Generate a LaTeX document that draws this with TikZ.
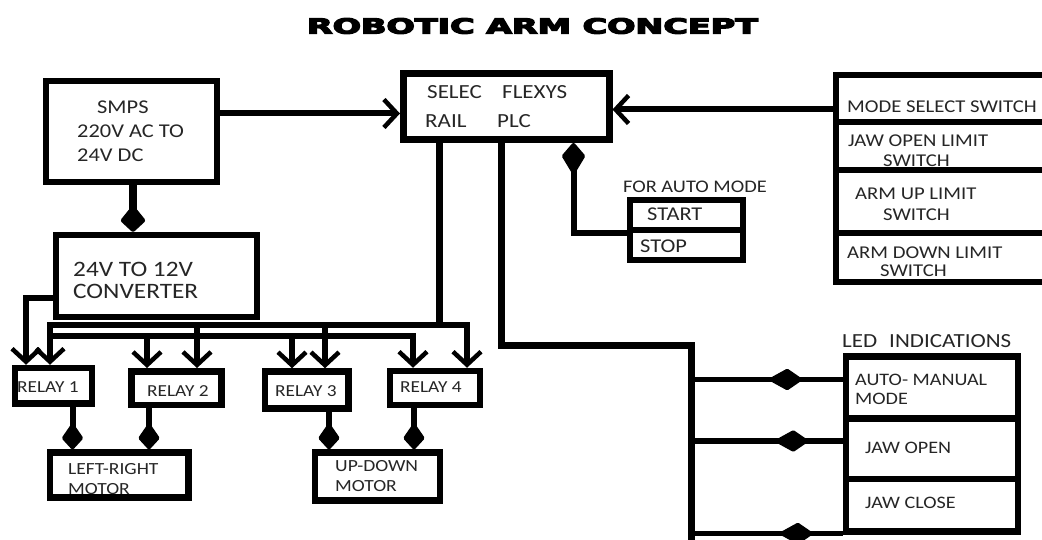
\documentclass[tikz,border=0pt]{standalone}
\usepackage{fontspec}
\usepackage{graphicx}
\setmainfont{Carlito}[FakeStretch=1.15]
\newfontfamily\titlefont{DejaVu Sans Bold}
\newcommand\heavytitle[1]{\special{pdf:literal direct 2 Tr 1.1 w 0 0 0 RG}#1\special{pdf:literal direct 0 Tr}}
\usetikzlibrary{arrows.meta,decorations.markings}
\begin{document}
\begin{tikzpicture}[x=1pt,y=-1pt,
  box/.style={draw, rectangle, inner sep=0pt, line width=6.5pt},
  wire/.style={line width=6pt},
  bus/.style={line width=6.5pt},
  barb/.style={arrows={-Straight Barb[length=13pt,width=28pt,line width=4.5pt]}},
  barbs/.style={arrows={Straight Barb[length=13pt,width=28pt,line width=4.5pt]-Straight Barb[length=13pt,width=28pt,line width=4.5pt]}},
  blob/.style={arrows={-Kite[length=28pt,width=22pt,inset=16pt,line width=4pt,round]}},
  blobL/.style={arrows={-Kite[length=28pt,width=26pt,inset=16pt,line width=5pt,round]}},
  blobU/.style={arrows={-Kite[length=34pt,width=24pt,inset=20pt,line width=4pt,round]}},
  midblob/.style={postaction={decorate}, decoration={markings, mark=at position #1 with {\arrow{Kite[length=36pt,width=22pt,inset=20pt,line width=4pt,round]}}}},
  t/.style={anchor=west, inner sep=0pt, text=black!85, font=\fontsize{#1pt}{#1pt}\selectfont},
]
\fill[white] (0,0) rectangle (1042,540);
\useasboundingbox (0,0) rectangle (1042,540);

% title
\node[inner sep=0pt] (title) at (532.5,26) {\resizebox{451pt}{15.5pt}{\titlefont\fontsize{21pt}{21pt}\selectfont\heavytitle{ROBOTIC ARM CONCEPT}}};

% boxes
\node[box, minimum width=171pt, minimum height=101pt] (smps) at (131.5,131.5) {};
\node[box, minimum width=201pt, minimum height=82pt] (conv) at (156.5,276) {};
\node[box, line width=7pt, minimum width=205.5pt, minimum height=66pt] (plc) at (506.25,106.5) {};
\node[box, line width=5.5pt, minimum width=113pt, minimum height=30pt] (start) at (686.5,215) {};
\node[box, line width=5.5pt, minimum width=113pt, minimum height=30pt] (stop) at (686.5,245) {};
\node[box, minimum width=224pt, minimum height=47pt] (sw1) at (948,98.5) {};
\node[box, minimum width=224pt, minimum height=48pt] (sw2) at (948,146) {};
\node[box, minimum width=224pt, minimum height=63pt] (sw3) at (948,201.5) {};
\node[box, minimum width=224pt, minimum height=49pt] (sw4) at (948,257.5) {};
\node[box, minimum width=172pt, minimum height=62pt] (led1) at (932,387.5) {};
\node[box, minimum width=172pt, minimum height=60.5pt] (led2) at (932,448.75) {};
\node[box, minimum width=172pt, minimum height=52.5pt] (led3) at (932,505.25) {};
\node[box, minimum width=77pt, minimum height=35.5pt] (r1) at (53.5,385.75) {};
\node[box, minimum width=90pt, minimum height=33.5pt] (r2) at (176.5,388) {};
\node[box, minimum width=83.5pt, minimum height=37pt] (r3) at (306.75,390) {};
\node[box, minimum width=90pt, minimum height=34pt] (r4) at (435,388) {};
\node[box, minimum width=138.5pt, minimum height=45pt] (lr) at (119.25,475) {};
\node[box, minimum width=125pt, minimum height=48pt] (ud) at (377.5,476.5) {};

% texts
\node[t=19.5] (ts1) at (97,107.5) {SMPS};
\node[t=19.5] (ts2) at (77,131) {220V AC TO};
\node[t=19.5] (ts3) at (77,155) {24V DC};
\node[t=22] (tc1) at (73,269.5) {24V TO 12V};
\node[t=22] (tc2) at (73,291) {CONVERTER};
\node[t=20] (tp1) at (427,92.5) {SELEC};
\node[t=20] (tp2) at (502,92.5) {FLEXYS};
\node[t=20] (tp3) at (425,121.5) {RAIL};
\node[t=20] (tp4) at (497,121.5) {PLC};
\node[t=18] (tw1) at (847,106.5) {MODE SELECT SWITCH};
\node[t=18] (tw2) at (848,141) {JAW OPEN LIMIT};
\node[t=18] (tw3) at (883,161) {SWITCH};
\node[t=18] (tw4) at (855,194) {ARM UP LIMIT};
\node[t=18] (tw5) at (883,214.5) {SWITCH};
\node[t=18] (tw6) at (847,252.5) {ARM DOWN LIMIT};
\node[t=18] (tw7) at (880,271) {SWITCH};
\node[t=17.7] (ta1) at (623,187) {FOR AUTO MODE};
\node[t=19.5] (ta2) at (647,214) {START};
\node[t=19.5] (ta3) at (640,246.5) {STOP};
\node[t=16.8] (tr1) at (17,387.5) {RELAY 1};
\node[t=16.8] (tr2) at (147,391.5) {RELAY 2};
\node[t=16.8] (tr3) at (275,391.5) {RELAY 3};
\node[t=16.8] (tr4) at (400,387.5) {RELAY 4};
\node[t=17] (tm1) at (68,469) {LEFT-RIGHT};
\node[t=17] (tm2) at (68,489) {MOTOR};
\node[t=17] (tm3) at (335,466) {UP-DOWN};
\node[t=17] (tm4) at (335,486) {MOTOR};
\node[t=20] (tl0) at (842,341) {LED\hspace{12pt}INDICATIONS};
\node[t=17.5] (tl1) at (855,380) {AUTO- MANUAL};
\node[t=17.5] (tl2) at (855,399) {MODE};
\node[t=17.5] (tl3) at (865,447.5) {JAW OPEN};
\node[t=17.5] (tl4) at (865,502.5) {JAW CLOSE};

% SMPS -> PLC
\coordinate (sp) at ([yshift=18pt]smps.east);
\draw[wire, barb] (sp) -- (sp -| plc.west);
% mode switch -> PLC
\coordinate (swin) at ([yshift=-11pt]sw1.west);
\draw[wire, barb] (swin) -- (swin -| plc.east);
% SMPS -> converter
\coordinate (sc) at ([xshift=1.5pt]smps.south);
\draw[line width=8pt, blobL] (sc) -- (sc |- conv.north);
% start/stop -> PLC
\draw[wire, blobU] (start.south west) -| ([xshift=67.25pt]plc.south);

% converter -> relay 1
\coordinate (cvl) at (26,298);
\draw[wire, barb] (cvl -| conv.west) -- (cvl) -- (cvl |- r1.north);

% buses
\coordinate (ubL) at (50,325);
\coordinate (ubR) at (467,325);
\coordinate (lbL) at (50,336);
\coordinate (lbR) at (413,336);
\draw[bus, barbs] (ubL |- r1.north) -- (ubL) -- (ubR) -- (ubR |- r4.north);
\draw[bus, barb] (lbL) -- (lbR) -- (lbR |- r4.north);
\coordinate (pv) at ([xshift=-67.25pt]plc.south);
\draw[line width=7pt] (pv) -- (pv |- ubL);
\coordinate (d2a) at (147,336);
\coordinate (d2b) at (197,325);
\coordinate (d3a) at (292,336);
\coordinate (d3b) at (325,325);
\draw[bus, barb] (d2a) -- (d2a |- r2.north);
\draw[bus, barb] (d2b) -- (d2b |- r2.north);
\draw[bus, barb] (d3a) -- (d3a |- r3.north);
\draw[bus, barb] (d3b) -- (d3b |- r3.north);

% relays -> motors
\coordinate (m1) at ([xshift=19pt]r1.south);
\coordinate (m2) at ([xshift=-27.5pt]r2.south);
\coordinate (m3) at ([xshift=22.25pt]r3.south);
\coordinate (m4) at ([xshift=-21pt]r4.south);
\draw[wire, blob] (m1) -- (m1 |- lr.north);
\draw[wire, blob] (m2) -- (m2 |- lr.north);
\draw[wire, blob] (m3) -- (m3 |- ud.north);
\draw[wire, blob] (m4) -- (m4 |- ud.north);

% PLC -> LED indications
\coordinate (pl) at ([xshift=-5.25pt]plc.south);
\coordinate (pc) at (691,345);
\coordinate (pend) at (691,548);
\draw[line width=7pt] (pl) |- (pc) -- (pend);
\coordinate (e1) at ([yshift=8pt]led1.west);
\coordinate (e2) at ([yshift=7.75pt]led2.west);
\coordinate (e3) at ([yshift=-28.25pt]led3.west);
\draw[line width=5.5pt, midblob=0.73] (e1 -| pc) -- (e1);
\draw[line width=5.5pt, midblob=0.77] (e2 -| pc) -- (e2);
\draw[line width=5.5pt, midblob=0.80] (e3 -| pc) -- (e3);
\end{tikzpicture}
\end{document}
